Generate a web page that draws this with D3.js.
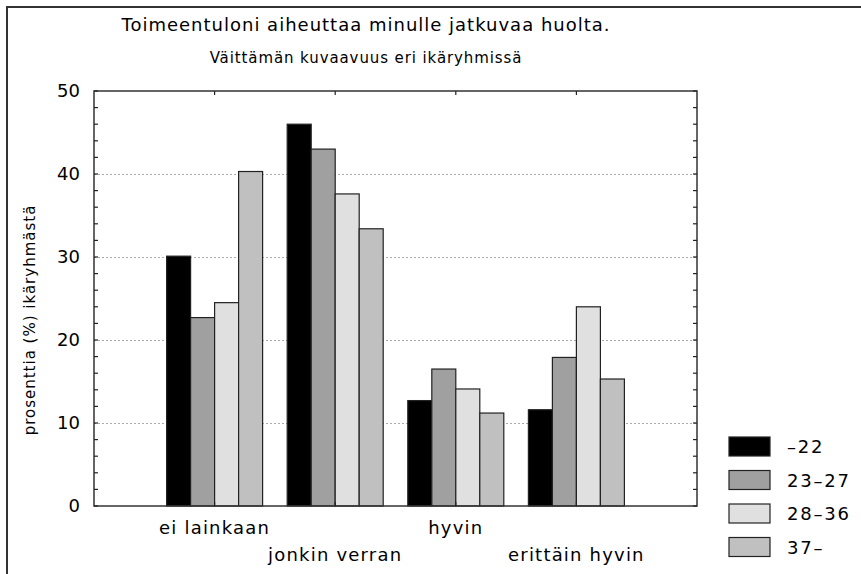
<!DOCTYPE html>
<head>
    <style>
        body { margin: 0; background: #fff; }
        svg { font-family: "DejaVu Sans", sans-serif; }
    </style>
</head>
<body>
    <script src="https://d3js.org/d3.v7.min.js"></script>
    <script>
        // data
        var categories = ['ei lainkaan', 'jonkin verran', 'hyvin', 'erittäin hyvin'];
        var groups = ['-22', '23-27', '28-36', '37-'];
        var v_22 = [30.1, 46.0, 12.7, 11.6];
        var v23_27 = [22.7, 43.0, 16.5, 17.9];
        var v28_36 = [24.5, 37.6, 14.1, 24.0];
        var v37 = [40.3, 33.4, 11.2, 15.3];
        var yTicks = [0, 10, 20, 30, 40, 50];
        var colors = ['#000000', '#a0a0a0', '#e0e0e0', '#c0c0c0'];

        var series = [v_22, v23_27, v28_36, v37];

        var W = 861, H = 574;
        var pLeft = 94, pRight = 697, pTop = 91, pBottom = 506;

        var svg = d3.select('body')
                    .append('svg')
                    .attr('width', W)
                    .attr('height', H);

        // outer frame
        svg.append('rect')
           .attr('x', 7).attr('y', 7)
           .attr('width', W + 10).attr('height', H + 10)
           .attr('fill', 'none')
           .attr('stroke', '#333')
           .attr('stroke-width', 2);

        svg.append('text')
           .attr('x', 366).attr('y', 31)
           .attr('text-anchor', 'middle')
           .attr('font-size', 18)
           .attr('letter-spacing', 1)
           .text('Toimeentuloni aiheuttaa minulle jatkuvaa huolta.');
        svg.append('text')
           .attr('x', 366).attr('y', 63)
           .attr('text-anchor', 'middle')
           .attr('font-size', 15)
           .attr('letter-spacing', 0.9)
           .text('Väittämän kuvaavuus eri ikäryhmissä');

        var y = d3.scaleLinear().domain([0, 50]).range([pBottom, pTop]);
        // category centres sit on the inner ticks of 5 equal slots
        var x = d3.scalePoint().domain(d3.range(6)).range([pLeft, pRight]);
        var inner = d3.scaleBand().domain(d3.range(4)).range([-48, 48]);

        // grid
        svg.append('g').selectAll('line')
           .data(yTicks.filter(d => d > 0 && d < 50))
           .enter().append('line')
           .attr('x1', pLeft).attr('x2', pRight)
           .attr('y1', d => y(d) + 0.5).attr('y2', d => y(d) + 0.5)
           .attr('stroke', '#aaa')
           .attr('stroke-dasharray', '2,2');

        // bars
        var bars = [];
        categories.forEach(function(c, ci) {
            series.forEach(function(s, si) {
                bars.push({ ci: ci, si: si, v: s[ci] });
            });
        });
        svg.append('g').selectAll('rect')
           .data(bars)
           .enter().append('rect')
           .attr('x', d => x(d.ci + 1) + inner(d.si))
           .attr('y', d => y(d.v))
           .attr('width', inner.bandwidth())
           .attr('height', d => y(0) - y(d.v))
           .attr('fill', d => colors[d.si])
           .attr('stroke', '#222')
           .attr('stroke-width', 1.2);

        // frame of the plot
        svg.append('rect')
           .attr('x', pLeft).attr('y', pTop)
           .attr('width', pRight - pLeft).attr('height', pBottom - pTop)
           .attr('fill', 'none')
           .attr('stroke', '#333')
           .attr('stroke-width', 1.5);

        // minor ticks on left/right, category ticks top/bottom
        var minor = d3.range(0, 51, 2);
        var tk = svg.append('g').attr('stroke', '#222').attr('stroke-width', 1.2);
        minor.forEach(function(m) {
            tk.append('line').attr('x1', pLeft).attr('x2', pLeft + 4)
              .attr('y1', y(m)).attr('y2', y(m));
            tk.append('line').attr('x1', pRight).attr('x2', pRight - 4)
              .attr('y1', y(m)).attr('y2', y(m));
        });
        [1, 2, 3, 4].forEach(function(i) {
            tk.append('line').attr('x1', x(i)).attr('x2', x(i))
              .attr('y1', pTop).attr('y2', pTop + 4);
            tk.append('line').attr('x1', x(i)).attr('x2', x(i))
              .attr('y1', pBottom).attr('y2', pBottom - 4);
        });

        // y tick labels
        svg.append('g').selectAll('text')
           .data(yTicks)
           .enter().append('text')
           .attr('x', 80)
           .attr('y', d => y(d) + 6)
           .attr('text-anchor', 'end')
           .attr('font-size', 18)
           .text(d => d);

        svg.append('text')
           .attr('transform', 'translate(35,320) rotate(-90)')
           .attr('text-anchor', 'middle')
           .attr('font-size', 15)
           .attr('letter-spacing', 1)
           .text('prosenttia (%) ikäryhmästä');

        // x labels, staggered
        svg.append('g').selectAll('text')
           .data(categories)
           .enter().append('text')
           .attr('x', (d, i) => x(i + 1))
           .attr('y', (d, i) => i % 2 ? 561 : 534)
           .attr('text-anchor', 'middle')
           .attr('font-size', 18)
           .attr('letter-spacing', 1.2)
           .text(d => d);

        // legend
        var lg = svg.append('g').selectAll('g')
                    .data(groups)
                    .enter().append('g')
                    .attr('transform', (d, i) => 'translate(729,' + (437 + i * 33.5) + ')');
        lg.append('rect')
          .attr('width', 41).attr('height', 19)
          .attr('fill', (d, i) => colors[i])
          .attr('stroke', '#222')
          .attr('stroke-width', 1.2);
        lg.append('text')
          .attr('x', 58).attr('y', 16)
          .attr('font-size', 18)
          .attr('letter-spacing', 1.8)
          .text(d => d.replace('-', '\u2013'));
    </script>
</body>
